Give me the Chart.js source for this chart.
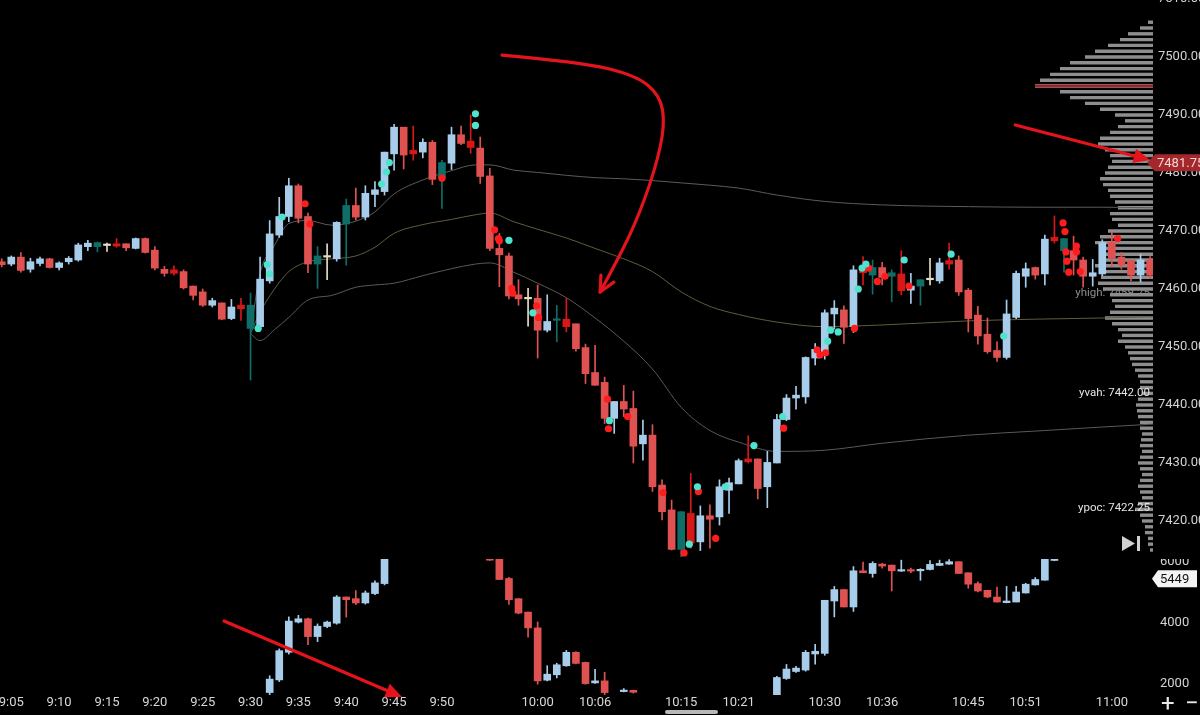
<!DOCTYPE html>
<html lang="en">
<head>
<meta charset="UTF-8">
<meta name="viewport" content="width=device-width, initial-scale=1.0">
<title>1 min chart</title>
<script src="https://cdn.jsdelivr.net/npm/chart.js"></script>
<style>
  html, body { margin: 0; padding: 0; background: #000; }
  body { width: 1200px; height: 715px; position: relative; overflow: hidden; font-family: Roboto, Arial, sans-serif; }
  canvas { position: absolute; left: 0; }
  #profile { top: -4px; z-index: 1; }
  #price { top: -4px; z-index: 2; }
  #delta { top: 559px; z-index: 2; }
  .zbtn { position: absolute; top: 691px; color: #e8e8e8; font-size: 24px; line-height: 24px; z-index: 3; }
  #thumb { position: absolute; left: 665px; top: 710px; width: 53px; height: 4px; border-radius: 2px; background: #b8b8b8; z-index: 3; }
</style>
</head>
<body>
<canvas id="profile" width="1200" height="561"></canvas>
<canvas id="price" width="1200" height="561"></canvas>
<canvas id="delta" width="1200" height="156"></canvas>
<span class="zbtn" style="left:1161px">+</span>
<span class="zbtn" style="left:1185px">−</span>
<div id="thumb"></div>

<script>
// ---- price candles (1 minute) ----
const times = [
  '9:04','9:05','9:06','9:07','9:08','9:09','9:10','9:11','9:12','9:13',
  '9:14','9:15','9:16','9:17','9:18','9:19','9:20','9:21','9:22','9:23',
  '9:24','9:25','9:26','9:27','9:28','9:29','9:30','9:31','9:32','9:33',
  '9:34','9:35','9:36','9:37','9:38','9:39','9:40','9:41','9:42','9:43',
  '9:44','9:45','9:46','9:47','9:48','9:49','9:50','9:51','9:52','9:53',
  '9:54','9:55','9:56','9:57','9:58','9:59','10:00','10:01','10:02','10:03',
  '10:04','10:05','10:06','10:07','10:08','10:09','10:10','10:11','10:12','10:13',
  '10:14','10:15','10:16','10:17','10:18','10:19','10:20','10:21','10:22','10:23',
  '10:24','10:25','10:26','10:27','10:28','10:29','10:30','10:31','10:32','10:33',
  '10:34','10:35','10:36','10:37','10:38','10:39','10:40','10:41','10:42','10:43',
  '10:44','10:45','10:46','10:47','10:48','10:49','10:50','10:51','10:52','10:53',
  '10:54','10:55','10:56','10:57','10:58','10:59','11:00','11:01','11:02','11:03',
  '11:04'
];
const open = [
  7464.7, 7464.3, 7465.5, 7463.4, 7464.4, 7465.2, 7463.7, 7464.7, 7465.0, 7467.3,
  7468.0, 7467.5, 7467.8, 7467.8, 7467.0, 7468.7, 7466.7, 7463.4, 7463.3, 7463.0,
  7460.5, 7459.5, 7457.2, 7457.6, 7454.9, 7457.2, 7457.2, 7453.5, 7461.4, 7469.3,
  7472.5, 7477.8, 7472.5, 7465.7, 7465.5, 7465.2, 7471.2, 7474.4, 7472.4, 7476.3,
  7476.8, 7483.3, 7487.9, 7483.9, 7483.6, 7485.3, 7481.8, 7481.7, 7486.6, 7485.5,
  7484.3, 7479.5, 7467.0, 7465.7, 7459.0, 7458.3, 7458.4, 7452.9, 7454.6, 7454.8,
  7454.0, 7449.9, 7445.6, 7443.9, 7437.7, 7440.6, 7439.4, 7433.3, 7434.8, 7426.2,
  7421.9, 7421.6, 7421.3, 7416.4, 7420.9, 7420.7, 7425.3, 7426.4, 7430.7, 7430.7,
  7425.9, 7430.0, 7437.5, 7441.2, 7441.4, 7448.1, 7449.2, 7455.7, 7456.4, 7453.5,
  7463.3, 7463.7, 7463.7, 7462.8, 7462.6, 7459.8, 7461.6, 7461.6, 7461.4, 7464.9,
  7465.0, 7459.8, 7455.5, 7452.2, 7449.4, 7448.2, 7455.1, 7462.2, 7463.7, 7462.6,
  7468.9, 7468.7, 7466.6, 7465.0, 7462.2, 7462.6, 7468.0, 7465.5, 7464.9, 7462.4,
  7465.0
];
const high = [
  7465.2, 7465.7, 7466.3, 7465.3, 7465.5, 7465.3, 7464.7, 7465.6, 7467.9, 7468.4,
  7468.1, 7467.9, 7468.7, 7467.8, 7468.8, 7468.8, 7467.3, 7463.9, 7464.0, 7463.3,
  7460.5, 7460.0, 7458.4, 7457.6, 7458.2, 7458.4, 7459.3, 7465.5, 7471.8, 7475.8,
  7479.1, 7478.1, 7473.1, 7467.3, 7467.8, 7471.6, 7475.5, 7477.4, 7477.8, 7478.5,
  7483.6, 7488.4, 7487.9, 7488.1, 7485.9, 7485.6, 7482.2, 7487.9, 7488.1, 7490.0,
  7486.2, 7480.8, 7469.6, 7466.2, 7461.6, 7460.1, 7460.7, 7459.0, 7457.2, 7458.4,
  7454.0, 7450.5, 7450.3, 7444.8, 7440.6, 7443.4, 7442.4, 7437.4, 7436.6, 7427.1,
  7423.6, 7421.6, 7428.2, 7422.6, 7422.8, 7427.1, 7427.4, 7430.7, 7434.7, 7430.7,
  7432.0, 7438.4, 7441.8, 7443.2, 7448.3, 7450.6, 7456.4, 7458.0, 7457.1, 7464.0,
  7465.6, 7465.0, 7464.6, 7463.3, 7466.6, 7462.7, 7461.6, 7465.3, 7465.3, 7467.9,
  7465.7, 7460.1, 7457.0, 7455.0, 7450.9, 7458.1, 7463.1, 7464.5, 7463.8, 7469.3,
  7472.6, 7468.7, 7469.1, 7465.5, 7465.1, 7468.5, 7469.8, 7466.3, 7465.0, 7466.0,
  7465.6
];
const low = [
  7463.8, 7464.0, 7462.9, 7462.9, 7464.0, 7463.6, 7463.3, 7464.3, 7464.8, 7466.6,
  7466.4, 7466.5, 7467.2, 7466.6, 7466.9, 7466.2, 7463.3, 7462.2, 7462.4, 7460.0,
  7458.1, 7457.0, 7456.9, 7454.7, 7454.7, 7454.6, 7444.3, 7453.2, 7461.0, 7468.9,
  7471.6, 7471.4, 7462.8, 7460.1, 7461.6, 7464.8, 7464.1, 7471.9, 7471.9, 7474.2,
  7476.2, 7480.5, 7480.7, 7482.2, 7482.6, 7478.0, 7473.9, 7480.6, 7484.9, 7483.4,
  7478.2, 7466.6, 7460.4, 7458.3, 7457.2, 7453.6, 7448.1, 7452.6, 7450.9, 7452.6,
  7449.3, 7443.7, 7443.4, 7436.8, 7435.1, 7438.0, 7430.0, 7430.5, 7425.1, 7420.2,
  7415.0, 7413.4, 7415.3, 7414.9, 7415.3, 7419.3, 7421.3, 7426.4, 7430.0, 7423.8,
  7422.3, 7430.0, 7437.3, 7439.3, 7440.3, 7446.9, 7447.9, 7453.1, 7450.6, 7452.5,
  7460.7, 7459.1, 7460.7, 7457.8, 7459.0, 7457.5, 7457.2, 7460.7, 7461.0, 7463.4,
  7458.9, 7452.6, 7450.5, 7448.9, 7447.5, 7447.9, 7454.9, 7460.3, 7461.7, 7460.7,
  7467.9, 7462.9, 7462.4, 7460.3, 7460.5, 7462.3, 7463.8, 7463.4, 7461.4, 7461.2,
  7461.8
];
const close = [
  7464.2, 7465.5, 7463.2, 7464.7, 7465.2, 7463.7, 7464.5, 7465.3, 7467.6, 7467.9,
  7467.3, 7467.5, 7467.4, 7467.1, 7468.7, 7466.3, 7463.6, 7462.7, 7462.7, 7460.2,
  7458.9, 7457.2, 7458.0, 7454.8, 7456.9, 7456.6, 7453.2, 7461.7, 7469.5, 7472.5,
  7477.8, 7472.2, 7464.3, 7464.3, 7465.5, 7471.5, 7474.4, 7472.4, 7476.5, 7477.1,
  7483.6, 7487.9, 7483.1, 7483.3, 7485.3, 7478.9, 7479.1, 7486.6, 7485.1, 7484.4,
  7479.4, 7467.0, 7465.9, 7458.8, 7458.3, 7458.3, 7452.9, 7454.4, 7454.6, 7453.5,
  7449.7, 7445.4, 7443.4, 7437.7, 7440.6, 7439.3, 7432.9, 7434.8, 7425.9, 7421.6,
  7415.1, 7415.1, 7416.2, 7420.9, 7420.3, 7425.9, 7426.6, 7430.4, 7430.2, 7425.6,
  7430.1, 7437.5, 7441.2, 7441.7, 7448.2, 7449.6, 7455.9, 7456.7, 7453.4, 7463.3,
  7462.8, 7462.4, 7462.0, 7462.2, 7459.7, 7460.5, 7460.5, 7461.6, 7464.5, 7464.3,
  7459.5, 7454.9, 7451.9, 7449.2, 7448.2, 7455.7, 7462.7, 7463.5, 7462.4, 7468.6,
  7468.3, 7466.6, 7465.0, 7462.2, 7462.8, 7468.0, 7465.3, 7464.1, 7462.4, 7465.0,
  7462.4
];
// candles the platform paints in other colours
const tealBars = ['9:14','9:30','9:37','9:40','9:50','10:02','10:15','10:35','10:37','10:40','10:55'];
const creamBars = ['9:15','9:38','9:59','10:41'];
const hotRedBars = ['9:16','9:22','9:29','9:47','9:53','10:03','10:16','10:22','10:34','10:38','10:43','10:54'];

// big-trade dots (minutes after 9:00, price)
const cyanDotMin = [30.8, 31.75, 32.0, 33.3, 43.7, 44.2, 44.5, 53.5, 53.5, 57.0, 59.5, 67.5, 75.85,
  76.7, 79.6, 82.6, 85.6, 90.3, 90.6, 91.4, 93.5, 93.9, 94.3, 98.3, 103.2, 108.7];
const cyanDotPrice = [7453.2, 7464.2, 7462.6, 7472.4, 7478.1, 7480.2, 7481.8, 7490.2, 7488.2, 7468.4, 7455.9, 7437.3, 7416.0,
  7425.9, 7425.9, 7433.0, 7438.0, 7451.0, 7452.9, 7452.6, 7460.0, 7463.6, 7464.3, 7465.0, 7466.0, 7451.9];
const redDotMin = [35.7, 36.2, 50.0, 55.5, 55.9, 56.0, 57.3, 57.4, 59.9, 60.1, 67.3, 67.4, 69.4, 73.1, 75.3, 76.8, 78.6,
  85.7, 89.2, 89.5, 90.1, 93.1, 94.6, 95.5, 96.3, 98.8, 114.9, 115.1, 115.2, 115.3, 115.5, 116.3, 116.3, 116.7, 120.6];
const redDotPrice = [7474.7, 7471.2, 7479.1, 7470.2, 7468.7, 7468.3, 7460.1, 7459.3, 7457.1, 7455.1, 7441.0, 7435.9, 7438.0, 7424.9, 7414.5, 7425.1, 7417.0,
  7436.0, 7449.5, 7448.6, 7449.0, 7453.2, 7463.6, 7461.3, 7462.2, 7460.5, 7471.4, 7469.9, 7466.4, 7464.8, 7462.9, 7467.4, 7466.4, 7463.0, 7468.7];

// vwap bands
const bandMinutes = [30, 31, 32.5, 34, 36, 38.5, 41, 43, 45, 48, 51, 53.5, 55, 57.5, 60, 63, 66, 69, 72, 75, 78, 81, 85, 90, 96, 105, 112, 119, 124.3];
const upperBand = [7452.5, 7462.7, 7467.5, 7471.3, 7471.8, 7471.0, 7471.7, 7473.3, 7476.4, 7478.8, 7480.4, 7481.4, 7481.4, 7480.5, 7480.1,
  7479.6, 7479.2, 7479.0, 7478.7, 7478.3, 7477.9, 7477.4, 7476.2, 7475.1, 7474.5, 7474.2, 7474.1, 7474.1, 7474.0];
const midBand = [7452.3, 7456.0, 7460.0, 7463.0, 7464.7, 7465.2, 7465.7, 7467.2, 7469.6, 7471.1, 7472.0, 7472.8, 7473.1, 7471.6, 7470.3,
  7468.8, 7467.0, 7465.2, 7463.0, 7459.5, 7457.0, 7455.6, 7454.3, 7453.5, 7453.8, 7454.5, 7454.8, 7455.0, 7455.2];
const lowerBand = [7452.3, 7451.1, 7453.0, 7455.1, 7458.1, 7458.9, 7460.3, 7460.7, 7461.0, 7462.3, 7463.5, 7464.3, 7464.5, 7462.9, 7461.0,
  7458.5, 7455.0, 7451.0, 7446.2, 7439.6, 7435.6, 7433.6, 7432.0, 7432.2, 7433.4, 7434.8, 7435.5, 7436.2, 7436.7];

// volume profile
const profileLevels = [
  7415, 7416, 7417, 7418, 7419, 7420, 7421, 7422, 7423, 7424, 7425, 7426, 7427, 7428, 7429, 7430,
  7431, 7432, 7433, 7434, 7435, 7436, 7437, 7438, 7439, 7440, 7441, 7442, 7443, 7444, 7445, 7446,
  7447, 7448, 7449, 7450, 7451, 7452, 7453, 7454, 7455, 7456, 7457, 7458, 7459, 7460, 7461, 7462,
  7463, 7464, 7465, 7466, 7467, 7468, 7469, 7470, 7471, 7472, 7473, 7474, 7475, 7476, 7477, 7478,
  7479, 7480, 7481, 7482, 7483, 7484, 7485, 7486, 7487, 7488, 7489, 7490, 7491, 7492, 7493, 7494,
  7495, 7496, 7497, 7498, 7499, 7500, 7501, 7502, 7503, 7504, 7505, 7506
];
const profileVolume = [
  30, 50, 50, 80, 80, 110, 130, 180, 150, 110, 130, 150, 130, 110, 130, 150,
  130, 110, 130, 120, 110, 130, 130, 150, 160, 170, 150, 110, 130, 130, 150, 180,
  210, 230, 250, 280, 350, 310, 350, 410, 480, 430, 380, 410, 430, 500, 550, 520,
  500, 580, 530, 480, 530, 580, 530, 450, 350, 410, 430, 350, 380, 430, 450, 500,
  530, 480, 450, 410, 430, 480, 550, 530, 430, 350, 280, 380, 530, 680, 830, 930,
  1180, 1130, 1030, 930, 830, 680, 580, 450, 330, 250, 130, 50
];
const profileMark = 7495;
const refLevelNames = ['yhigh', 'yvah', 'ypoc'];
const refLevelValues = [7459.25, 7442.00, 7422.25];
const lastPrice = 7481.75;

// ---- lower pane: cumulative delta candles ----
const deltaTimes = [
  '9:32','9:33','9:34','9:35','9:36','9:37','9:38','9:39','9:40','9:41','9:42','9:43','9:44',
  '9:55','9:56','9:57','9:58','9:59','10:00','10:01','10:02','10:03','10:04','10:05','10:06','10:07',
  '10:09','10:10',
  '10:25','10:26','10:27','10:28','10:29','10:30','10:31','10:32','10:33','10:34',
  '10:35','10:36','10:37','10:38','10:39','10:40','10:41','10:42','10:43','10:44',
  '10:45','10:46','10:47','10:48','10:49','10:50','10:51','10:52','10:53','10:54'
];
const deltaOpen = [1720, 2134, 3039, 4030, 4138, 3554, 3885, 3993, 4852, 4797, 4656, 4964, 5292,
  6300, 6150, 5459, 4797, 4357, 3839, 2125, 2302, 2597, 3039, 2708, 2036, 2102,
  1750, 1793,
  1600, 2180, 2410, 2456, 2984, 3003, 4721, 5095, 4525, 5711,
  5623, 5931, 5898, 5701, 5734, 5711, 5754, 5888, 5931, 6010,
  5646, 5292, 5072, 4852, 4666, 4688, 4984, 5249, 5403, 6050];
const deltaHigh = [2270, 3150, 4200, 4250, 4160, 3970, 4060, 4900, 4852, 5064, 5050, 5380, 6300,
  6300, 6200, 5500, 4800, 4357, 4030, 2600, 2680, 3100, 3060, 2720, 2480, 2380,
  1850, 1800,
  2250, 2640, 2580, 3100, 3300, 4744, 5200, 5095, 5850, 6000,
  6010, 5960, 5898, 6060, 5800, 5780, 6050, 6060, 6080, 6010,
  5646, 5350, 5072, 5180, 5200, 5200, 5300, 5490, 6300, 6300];
const deltaLow = [1650, 2080, 2980, 4000, 3290, 3390, 3850, 3960, 4193, 4600, 4620, 4930, 5250,
  6050, 5420, 4610, 4300, 3534, 1993, 2100, 2200, 2580, 2660, 1990, 2020, 1500,
  1740, 1700,
  1600, 2150, 2380, 2420, 2650, 2940, 4200, 4525, 4380, 5646,
  5500, 5800, 5050, 5690, 5650, 5400, 5740, 5880, 5920, 5623,
  5140, 5020, 4830, 4680, 4660, 4688, 4980, 5240, 5400, 6040];
const deltaClose = [2160, 3092, 4062, 4138, 3554, 3895, 4030, 4852, 4764, 4656, 4984, 5315, 6300,
  6060, 5426, 4764, 4325, 3839, 2102, 2321, 2630, 3039, 2675, 2013, 2102, 1718,
  1793, 1728,
  2213, 2489, 2521, 3039, 3072, 4744, 5095, 4525, 5711, 5646,
  5954, 5866, 5711, 5734, 5700, 5750, 5921, 5954, 6010, 5623,
  5272, 5049, 4852, 4688, 4721, 5016, 5272, 5426, 6300, 6090];
const deltaLast = 5449;
const deltaTicks = [2000, 4000, 6000];

const timeTicks = ['9:05','9:10','9:15','9:20','9:25','9:30','9:35','9:40','9:45','9:50',
  '10:00','10:06','10:15','10:21','10:30','10:36','10:45','10:51','11:00'];

// hand-drawn arrows (minutes after 9:00 + value on the pane's axis)
const curveArrowMin = [56.28, 64.43, 70.18, 72.79, 73.31, 72.27, 70.18, 67.78, 66.52];
const curveArrowPrice = [7500.34, 7499.14, 7496.9, 7493.45, 7488.28, 7480.52, 7471.03, 7463.28, 7459.48];
const tagArrowMin = [109.9, 124.0];
const tagArrowPrice = [7488.28, 7482.24];
const deltaArrowMin = [27.23, 45.83];
const deltaArrowValue = [4066, 1574];

// ---- view ----
const X_MIN = 3.82, X_MAX = 124.3;
const PRICE_MIN = 7413.79, PRICE_MAX = 7510.52;
const DELTA_MIN = 1639, DELTA_MAX = 6098;
const PROFILE_MAX = 11530;

const UP = '#a7cdeb', DOWN = '#e05252', TEAL = '#0f6e67', CREAM = '#e6dec2', HOT = '#d81717';
const ARROW = '#e3141c';

Chart.defaults.font.family = 'Roboto, "Noto Sans", sans-serif';
Chart.defaults.color = '#d4d4d4';
Chart.defaults.plugins.legend.display = false;
Chart.defaults.plugins.tooltip.enabled = false;

const toMin = t => { const [h, m] = t.split(':').map(Number); return (h - 9) * 60 + m; };
const fmtMin = v => (9 + Math.floor(v / 60)) + ':' + String(Math.round(v % 60)).padStart(2, '0');
const noPad = s => { s.paddingTop = 0; s.paddingBottom = 0; s.paddingLeft = 0; s.paddingRight = 0; };

function candleColor(i) {
  const t = times[i];
  if (tealBars.includes(t)) return TEAL;
  if (creamBars.includes(t)) return CREAM;
  if (hotRedBars.includes(t)) return HOT;
  return close[i] >= open[i] ? UP : DOWN;
}
const deltaColor = i => deltaClose[i] >= deltaOpen[i] ? UP : DOWN;

function timeAxis(show) {
  return {
    type: 'linear', min: X_MIN, max: X_MAX, offset: false, display: show,
    grid: { display: false, drawTicks: false }, border: { display: false },
    afterBuildTicks: s => { s.ticks = timeTicks.map(t => ({ value: toMin(t) })); },
    afterFit: s => { if (show) s.height = 20; noPad(s); },
    ticks: { autoSkip: false, maxRotation: 0, padding: 0, color: '#d8d8d8', font: { size: 13 }, callback: v => fmtMin(v) }
  };
}

function smoothPath(ctx, pts) {
  ctx.beginPath();
  ctx.moveTo(pts[0][0], pts[0][1]);
  for (let i = 1; i < pts.length - 1; i++) {
    const mx = (pts[i][0] + pts[i + 1][0]) / 2, my = (pts[i][1] + pts[i + 1][1]) / 2;
    ctx.quadraticCurveTo(pts[i][0], pts[i][1], mx, my);
  }
  const last = pts[pts.length - 1];
  ctx.lineTo(last[0], last[1]);
}
function arrowHead(ctx, from, tip, len, spread, filled) {
  const a = Math.atan2(tip[1] - from[1], tip[0] - from[0]);
  const l = [tip[0] - len * Math.cos(a - spread), tip[1] - len * Math.sin(a - spread)];
  const r = [tip[0] - len * Math.cos(a + spread), tip[1] - len * Math.sin(a + spread)];
  ctx.beginPath();
  ctx.moveTo(l[0], l[1]); ctx.lineTo(tip[0], tip[1]); ctx.lineTo(r[0], r[1]);
  if (filled) { ctx.closePath(); ctx.fill(); } else ctx.stroke();
}
function straightArrow(ctx, a, b) {
  const ang = Math.atan2(b[1] - a[1], b[0] - a[0]);
  ctx.beginPath();
  ctx.moveTo(a[0], a[1]);
  ctx.lineTo(b[0] - 12 * Math.cos(ang), b[1] - 12 * Math.sin(ang));
  ctx.stroke();
  arrowHead(ctx, a, b, 18, 0.42, true);
}

// ---- volume profile (underneath) ----
const profileExtras = {
  id: 'profileExtras',
  afterDatasetsDraw(chart) {
    const { ctx, chartArea } = chart;
    const bar = chart.getDatasetMeta(0).data[profileLevels.indexOf(profileMark)];
    ctx.save();
    ctx.fillStyle = '#c01318';
    ctx.fillRect(bar.x, bar.y - 1, chartArea.right - bar.x, 2);
    ctx.restore();
  }
};
new Chart(document.getElementById('profile'), {
  type: 'bar',
  data: {
    datasets: [{
      data: profileLevels.map((p, i) => ({ y: p, x: profileVolume[i] })),
      backgroundColor: 'rgba(215,215,215,0.66)',
      barThickness: 3.4, inflateAmount: 0, grouped: false
    }]
  },
  options: {
    indexAxis: 'y', responsive: false, animation: false, events: [], devicePixelRatio: 1,
    layout: { padding: { right: 47 }, autoPadding: false },
    scales: {
      y: { type: 'linear', min: PRICE_MIN, max: PRICE_MAX, display: false, offset: false, afterFit: noPad },
      x: { type: 'linear', min: 0, max: PROFILE_MAX, reverse: true, display: false, offset: false, afterFit: noPad }
    }
  },
  plugins: [profileExtras]
});

// ---- price pane ----
const priceExtras = {
  id: 'priceExtras',
  afterDatasetsDraw(chart) {
    const { ctx, scales: { x, y } } = chart;
    ctx.save();
    ctx.font = '11.5px Roboto';
    ctx.textAlign = 'right';
    ctx.textBaseline = 'middle';
    refLevelNames.forEach((n, i) => {
      ctx.fillStyle = i === 0 ? '#8d8d8d' : '#e4e4e4';
      ctx.fillText(n + ': ' + refLevelValues[i].toFixed(2), x.right - 3, y.getPixelForValue(refLevelValues[i]));
    });

    ctx.strokeStyle = ARROW; ctx.fillStyle = ARROW;
    ctx.lineWidth = 3.2; ctx.lineCap = 'round'; ctx.lineJoin = 'round';
    const pts = curveArrowMin.map((m, i) => [x.getPixelForValue(m), y.getPixelForValue(curveArrowPrice[i])]);
    smoothPath(ctx, pts);
    ctx.stroke();
    arrowHead(ctx, pts[pts.length - 2], pts[pts.length - 1], 17, 0.45, false);

    const a = [x.getPixelForValue(tagArrowMin[0]), y.getPixelForValue(tagArrowPrice[0])];
    const b = [x.getPixelForValue(tagArrowMin[1]), y.getPixelForValue(tagArrowPrice[1])];
    straightArrow(ctx, a, b);
    ctx.restore();
  },
  afterDraw(chart) {
    const { ctx, scales: { x, y } } = chart;
    ctx.save();
    // last price tag
    const yv = y.getPixelForValue(lastPrice);
    ctx.fillStyle = '#a3272b';
    ctx.beginPath();
    ctx.moveTo(x.right - 6, yv);
    ctx.lineTo(x.right + 2, yv - 8.5);
    ctx.lineTo(1200, yv - 8.5);
    ctx.lineTo(1200, yv + 8.5);
    ctx.lineTo(x.right + 2, yv + 8.5);
    ctx.closePath();
    ctx.fill();
    ctx.fillStyle = '#f5d6d6';
    ctx.font = '13px Roboto';
    ctx.textAlign = 'left';
    ctx.textBaseline = 'middle';
    ctx.fillText(lastPrice.toFixed(2), x.right + 4, yv + 0.5);
    // jump-to-latest icon
    ctx.fillStyle = '#d2d2d2';
    ctx.beginPath();
    ctx.moveTo(1122, 540); ctx.lineTo(1122, 555); ctx.lineTo(1135, 547.5); ctx.closePath();
    ctx.fill();
    ctx.fillRect(1137, 540, 3, 15);
    ctx.restore();
  }
};

new Chart(document.getElementById('price'), {
  type: 'bar',
  data: {
    datasets: [
      { type: 'line', data: cyanDotMin.map((m, i) => ({ x: m, y: cyanDotPrice[i] })), showLine: false,
        pointRadius: 3.6, pointBackgroundColor: '#4fe3cd', pointBorderWidth: 0, order: 0 },
      { type: 'line', data: redDotMin.map((m, i) => ({ x: m, y: redDotPrice[i] })), showLine: false,
        pointRadius: 3.6, pointBackgroundColor: '#ff1c1c', pointBorderWidth: 0, order: 0 },
      { data: times.map((t, i) => ({ x: toMin(t), y: [open[i], close[i]] })),
        backgroundColor: c => candleColor(c.dataIndex), barThickness: 7, minBarLength: 1.5, grouped: false, order: 1 },
      { data: times.map((t, i) => ({ x: toMin(t), y: [low[i], high[i]] })),
        backgroundColor: c => candleColor(c.dataIndex), barThickness: 1, grouped: false, order: 2 },
      { type: 'line', data: bandMinutes.map((m, i) => ({ x: m, y: upperBand[i] })), borderColor: '#5b5b5b',
        borderWidth: 1, pointRadius: 0, cubicInterpolationMode: 'monotone', order: 3 },
      { type: 'line', data: bandMinutes.map((m, i) => ({ x: m, y: midBand[i] })), borderColor: '#625c3c',
        borderWidth: 1, pointRadius: 0, cubicInterpolationMode: 'monotone', order: 3 },
      { type: 'line', data: bandMinutes.map((m, i) => ({ x: m, y: lowerBand[i] })), borderColor: '#595959',
        borderWidth: 1, pointRadius: 0, cubicInterpolationMode: 'monotone', order: 3 }
    ]
  },
  options: {
    responsive: false, animation: false, events: [], devicePixelRatio: 1,
    layout: { padding: 0, autoPadding: false },
    scales: {
      x: timeAxis(false),
      y: {
        type: 'linear', position: 'right', min: PRICE_MIN, max: PRICE_MAX,
        grid: { display: false, drawTicks: false }, border: { display: false },
        afterFit: s => { s.width = 47; noPad(s); },
        ticks: { stepSize: 10, includeBounds: false, padding: 5, color: '#d2d2d2', font: { size: 13 },
          callback: v => v.toFixed(2) }
      }
    }
  },
  plugins: [priceExtras]
});

// ---- delta pane ----
const deltaExtras = {
  id: 'deltaExtras',
  afterDraw(chart) {
    const { ctx, scales: { x, y } } = chart;
    ctx.save();
    ctx.strokeStyle = ARROW; ctx.fillStyle = ARROW;
    ctx.lineWidth = 3.2; ctx.lineCap = 'round';
    const a = [x.getPixelForValue(deltaArrowMin[0]), y.getPixelForValue(deltaArrowValue[0])];
    const b = [x.getPixelForValue(deltaArrowMin[1]), y.getPixelForValue(deltaArrowValue[1])];
    straightArrow(ctx, a, b);

    const yv = y.getPixelForValue(deltaLast);
    ctx.fillStyle = '#f4f4f4';
    ctx.beginPath();
    ctx.moveTo(x.right - 1, yv);
    ctx.lineTo(x.right + 5, yv - 8.5);
    ctx.lineTo(1197, yv - 8.5);
    ctx.lineTo(1197, yv + 8.5);
    ctx.lineTo(x.right + 5, yv + 8.5);
    ctx.closePath();
    ctx.fill();
    ctx.fillStyle = '#111';
    ctx.font = '13px Roboto';
    ctx.textAlign = 'left';
    ctx.textBaseline = 'middle';
    ctx.fillText(String(deltaLast), x.right + 7, yv + 0.5);
    ctx.restore();
  }
};

new Chart(document.getElementById('delta'), {
  type: 'bar',
  data: {
    datasets: [
      { data: deltaTimes.map((t, i) => ({ x: toMin(t), y: [deltaOpen[i], deltaClose[i]] })),
        backgroundColor: c => deltaColor(c.dataIndex), barThickness: 7, minBarLength: 1.5, grouped: false, order: 1 },
      { data: deltaTimes.map((t, i) => ({ x: toMin(t), y: [deltaLow[i], deltaHigh[i]] })),
        backgroundColor: c => deltaColor(c.dataIndex), barThickness: 1, grouped: false, order: 2 }
    ]
  },
  options: {
    responsive: false, animation: false, events: [], devicePixelRatio: 1,
    layout: { padding: 0, autoPadding: false },
    scales: {
      x: timeAxis(true),
      y: {
        type: 'linear', position: 'right', min: DELTA_MIN, max: DELTA_MAX,
        grid: { display: false, drawTicks: false }, border: { display: false },
        afterBuildTicks: s => { s.ticks = deltaTicks.map(v => ({ value: v })); },
        afterFit: s => { s.width = 47; noPad(s); },
        ticks: { padding: 7, color: '#d2d2d2', font: { size: 13 }, callback: v => String(v) }
      }
    }
  },
  plugins: [deltaExtras]
});
</script>
</body>
</html>
